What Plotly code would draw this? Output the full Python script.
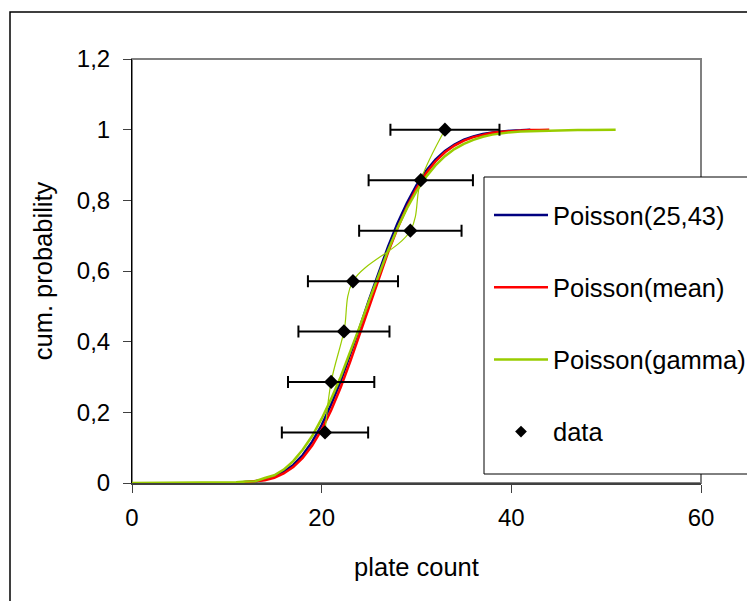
import plotly.graph_objects as go

# ---- data ----
x_p2543 = list(range(11, 43))
y_p2543 = [0.001, 0.0025, 0.005, 0.010, 0.018, 0.032, 0.051, 0.079, 0.117, 0.164,
           0.222, 0.288, 0.362, 0.439, 0.519, 0.596, 0.669, 0.735, 0.793, 0.843,
           0.883, 0.915, 0.940, 0.958, 0.972, 0.981, 0.988, 0.992, 0.995, 0.997,
           0.998, 1.0]

x_mean = list(range(11, 45))
y_mean = [0.0, 0.002, 0.004, 0.008, 0.015, 0.027, 0.045, 0.071, 0.106, 0.151,
          0.206, 0.270, 0.343, 0.420, 0.500, 0.578, 0.653, 0.721, 0.782, 0.834,
          0.876, 0.910, 0.936, 0.955, 0.969, 0.979, 0.986, 0.991, 0.994, 0.996,
          0.998, 0.999, 0.999, 1.0]

x_gamma = list(range(0, 52))
y_gamma = [0, 0, 0, 0, 0, 0, 0, 0, 0, 0, 0, 0.002,
           0.004, 0.005, 0.014, 0.022, 0.038, 0.062, 0.094, 0.133, 0.182, 0.238,
           0.300, 0.370, 0.442, 0.516, 0.589, 0.658, 0.722, 0.778, 0.826, 0.866,
           0.899, 0.925, 0.945, 0.960, 0.971, 0.980, 0.986, 0.990, 0.993, 0.995,
           0.996, 0.997, 0.998, 0.998, 0.999, 0.999, 0.999, 1.0, 1.0, 1.0]

data_x = [20.35, 21.0, 22.35, 23.3, 29.35, 30.45, 33.0]
data_y = [0.143, 0.286, 0.429, 0.571, 0.714, 0.857, 1.0]
data_err = [4.55, 4.55, 4.8, 4.75, 5.4, 5.5, 5.75]

x_ticks = [0, 20, 40, 60]
x_ticklabels = ["0", "20", "40", "60"]
y_ticks = [0, 0.2, 0.4, 0.6, 0.8, 1.0, 1.2]
y_ticklabels = ["0", "0,2", "0,4", "0,6", "0,8", "1", "1,2"]

FONT = "Liberation Sans, Arial, sans-serif"
FS_TICK = 24
FS_TEXT = 25.5

fig = go.Figure()
fig.add_trace(go.Scatter(x=x_p2543, y=y_p2543, mode="lines", name="Poisson(25,43)",
                         line=dict(color="#000080", width=2.5), legendgroup="a",
                         cliponaxis=False))
fig.add_trace(go.Scatter(x=x_mean, y=y_mean, mode="lines", name="Poisson(mean)",
                         line=dict(color="#FF0000", width=2.5), legendgroup="b",
                         cliponaxis=False))
fig.add_trace(go.Scatter(x=x_gamma, y=y_gamma, mode="lines", name="Poisson(gamma)",
                         line=dict(color="#99CC00", width=2.5), legendgroup="c",
                         cliponaxis=False))
fig.add_trace(go.Scatter(x=data_x, y=data_y, mode="lines", showlegend=False,
                         line=dict(color="#99CC00", width=1.2, shape="spline", smoothing=1),
                         cliponaxis=False, hoverinfo="skip"))
fig.add_trace(go.Scatter(x=data_x, y=data_y, mode="markers", name="data",
                         marker=dict(symbol="diamond", size=11, color="black"),
                         error_x=dict(type="data", array=data_err, symmetric=True,
                                      color="black", thickness=2, width=6),
                         legendgroup="d", showlegend=False, cliponaxis=False))
# legend entry for the data series (smaller symbol, as in the reference legend)
fig.add_trace(go.Scatter(x=[None], y=[None], mode="markers", name="data",
                         marker=dict(symbol="diamond", size=9, color="black"),
                         legendgroup="d", showlegend=True))

W, H = 747, 601
L, R, T, B = 132, 46, 59, 118
pw, ph = W - L - R, H - T - B

def px(xp):
    return (xp - L) / pw

def py(yp):
    return (H - B - yp) / ph

shapes = [
    # outer chart border (extends beyond the visible picture)
    dict(type="rect", xref="paper", yref="paper", x0=px(10), x1=1.3, y0=-0.5, y1=py(12),
         line=dict(color="black", width=1.5), layer="below"),
    # plot area border
    dict(type="rect", xref="paper", yref="paper", x0=0, x1=1, y0=0, y1=1,
         line=dict(color="#808080", width=2), layer="below"),
    # legend box
    dict(type="rect", xref="paper", yref="paper", x0=px(484), x1=1.3, y0=py(474), y1=py(177),
         line=dict(color="black", width=1), fillcolor="white", layer="below"),
]

fig.update_layout(
    width=W, height=H,
    margin=dict(l=L, r=R, t=T, b=B, pad=0, autoexpand=False),
    paper_bgcolor="white", plot_bgcolor="white",
    font=dict(family=FONT, size=FS_TEXT, color="black"),
    shapes=shapes,
    showlegend=True,
    legend=dict(x=px(489), y=py(192), xanchor="left", yanchor="top",
                bgcolor="rgba(0,0,0,0)", borderwidth=0,
                font=dict(family=FONT, size=FS_TEXT, color="black"),
                tracegroupgap=36, itemwidth=54, traceorder="grouped"),
    xaxis=dict(range=[0, 60], tickvals=x_ticks, ticktext=x_ticklabels,
               showgrid=False, zeroline=False, showline=True, linecolor="#404040",
               linewidth=2, ticks="outside", ticklen=8, tickcolor="#404040", tickwidth=1,
               ticklabelstandoff=4, automargin=False,
               tickfont=dict(family=FONT, size=FS_TICK, color="black"),
               title=dict(text="plate count", standoff=28,
                          font=dict(family=FONT, size=FS_TEXT, color="black"))),
    yaxis=dict(range=[0, 1.2], tickvals=y_ticks, ticktext=y_ticklabels,
               showgrid=False, zeroline=False, showline=True, linecolor="black",
               linewidth=1, ticks="outside", ticklen=8, tickcolor="#404040", tickwidth=1,
               ticklabelstandoff=8, automargin=False,
               tickfont=dict(family=FONT, size=FS_TICK, color="black"),
               title=dict(text="cum. probability", standoff=16,
                          font=dict(family=FONT, size=FS_TEXT, color="black"))),
)

fig.write_html("out.html")
